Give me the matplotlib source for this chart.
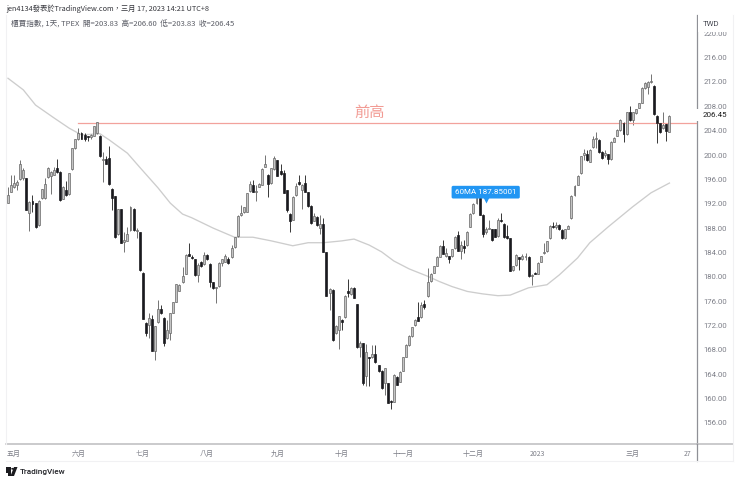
import matplotlib
matplotlib.use("Agg")
import matplotlib.pyplot as plt
from matplotlib.patches import Polygon, Rectangle, Circle

# =========================
# DATA
# =========================

opens = [
    192.2, 194.0, 194.8, 195.1, 196.1, 196.2, 196.2, 190.4, 192.4, 192.1,
    188.5, 192.9, 192.9, 196.4, 196.6, 196.8, 197.9, 197.2, 192.8, 194.3,
    193.6, 197.7, 201.1, 202.6, 203.6, 203.3, 203.0, 202.9, 203.2, 203.6,
    203.2, 199.2, 199.3, 199.5, 194.5, 193.2, 187.0, 191.1, 185.7, 185.9,
    187.7, 191.1, 187.5, 187.3, 180.7, 172.4, 172.1, 173.0, 167.9, 172.5,
    174.7, 173.3, 169.9, 170.7, 174.1, 175.9, 177.7, 179.1, 180.5, 183.7,
    183.3, 182.9, 180.3, 182.5, 182.1, 183.6, 182.1, 179.1, 178.1, 178.5,
    182.3, 182.5, 183.0, 183.2, 184.9, 186.7, 190.2, 190.6, 190.7, 194.1,
    195.1, 193.9, 194.8, 195.1, 198.1, 196.8, 195.4, 197.7, 199.1, 197.3,
    197.0, 194.2, 190.3, 189.4, 193.4, 195.5, 194.2, 195.4, 193.9, 191.7,
    189.2, 189.9, 188.0, 188.7, 184.0, 177.3, 177.9, 170.7, 171.2, 172.9,
    173.4, 177.6, 177.2, 178.1, 175.5, 168.4, 169.1, 163.7, 166.8, 166.8,
    167.4, 165.5, 164.5, 162.5, 162.5, 159.5, 159.5, 163.6, 162.8, 164.6,
    166.9, 168.8, 170.3, 172.1, 173.4, 173.4, 175.5, 176.9, 179.3, 180.7,
    181.8, 183.3, 185.1, 183.5, 183.4, 183.4, 184.7, 186.8, 184.3, 185.1,
    185.2, 188.2, 190.4, 192.1, 193.0, 190.2, 187.3, 187.9, 187.8, 187.8,
    186.7, 189.3, 188.7, 186.7, 186.3, 181.1, 182.0, 183.2, 183.0, 183.2,
    183.3, 180.1, 180.7, 180.5, 182.5, 183.9, 184.2, 186.3, 188.3, 188.1,
    188.5, 187.7, 186.3, 187.9, 189.6, 193.4, 195.1, 197.0, 200.0, 200.1,
    198.9, 201.3, 202.6, 202.5, 200.5, 200.0, 200.1, 199.3, 202.2, 203.2,
    204.1, 205.2, 203.4, 207.1, 205.8, 206.9, 207.8, 208.6, 211.0, 211.1,
    212.0, 211.4, 206.4, 205.2, 204.4, 205.1, 203.83,
]

highs = [
    194.8, 196.8, 196.8, 195.9, 199.2, 197.8, 196.3, 192.5, 193.5, 192.2,
    192.6, 194.5, 196.2, 198.1, 197.3, 198.1, 199.3, 197.3, 194.9, 195.7,
    197.1, 201.2, 202.7, 204.4, 203.8, 203.6, 203.2, 203.4, 204.8, 205.5,
    203.3, 200.5, 199.9, 201.5, 194.6, 193.3, 191.2, 191.2, 187.4, 188.1,
    191.6, 191.3, 188.0, 187.4, 180.8, 172.5, 174.0, 173.7, 172.0, 176.2,
    175.4, 173.4, 172.9, 174.1, 175.9, 178.9, 178.9, 181.6, 183.7, 185.5,
    183.6, 183.0, 182.2, 182.6, 184.0, 183.7, 182.2, 179.2, 178.4, 182.4,
    183.0, 183.8, 183.2, 185.2, 186.6, 190.1, 191.8, 191.5, 193.8, 195.8,
    195.9, 195.1, 195.4, 197.8, 200.0, 196.9, 197.9, 199.9, 199.2, 198.6,
    197.5, 194.3, 190.4, 193.2, 195.4, 196.7, 195.2, 196.8, 194.0, 191.8,
    190.4, 190.0, 190.1, 189.6, 184.1, 178.1, 178.0, 172.1, 173.6, 173.0,
    177.0, 179.6, 178.4, 178.4, 175.6, 169.5, 169.2, 169.0, 166.8, 168.8,
    168.8, 165.6, 164.7, 165.1, 162.6, 159.7, 164.0, 163.7, 164.5, 166.9,
    168.9, 170.4, 171.8, 173.0, 175.8, 175.9, 176.2, 181.4, 180.6, 181.8,
    183.4, 185.2, 186.0, 184.8, 183.5, 184.6, 186.7, 187.5, 185.8, 186.0,
    187.5, 190.4, 192.1, 193.3, 193.1, 190.3, 188.1, 189.3, 187.8, 187.9,
    189.6, 190.4, 188.8, 188.5, 186.4, 181.8, 183.7, 183.3, 183.7, 183.9,
    183.4, 180.5, 180.8, 182.4, 183.5, 185.5, 185.9, 188.5, 189.0, 189.0,
    188.6, 187.8, 187.9, 188.5, 193.4, 195.0, 196.7, 199.9, 201.0, 200.8,
    201.0, 203.1, 203.7, 202.6, 200.6, 200.8, 200.2, 202.3, 202.9, 204.2,
    205.9, 205.4, 207.1, 208.0, 207.1, 207.6, 208.6, 211.1, 212.0, 212.1,
    213.3, 211.5, 206.5, 205.3, 207.1, 205.2, 206.60,
]

lows = [
    192.1, 193.9, 194.6, 194.3, 195.9, 195.9, 190.9, 187.5, 190.7, 188.0,
    188.4, 192.8, 192.8, 196.3, 193.6, 196.7, 197.1, 192.5, 192.7, 193.3,
    193.5, 197.6, 201.0, 202.5, 202.6, 202.3, 202.3, 202.6, 203.1, 203.5,
    199.7, 195.6, 198.5, 195.1, 190.9, 186.4, 186.9, 185.5, 184.0, 185.8,
    187.6, 187.6, 186.3, 181.0, 173.0, 170.3, 169.9, 167.8, 166.3, 172.4,
    173.9, 168.6, 169.8, 169.7, 174.0, 175.8, 177.6, 179.0, 180.4, 183.4,
    183.0, 180.2, 179.2, 181.6, 182.0, 182.8, 178.4, 178.0, 175.7, 178.4,
    181.7, 182.4, 182.1, 183.1, 184.7, 186.6, 190.0, 190.5, 190.6, 194.0,
    193.9, 192.5, 194.7, 195.0, 198.0, 193.1, 195.2, 197.5, 196.5, 196.7,
    193.7, 190.7, 187.3, 189.3, 193.3, 195.1, 191.1, 193.9, 191.5, 188.7,
    189.1, 188.4, 187.0, 184.0, 176.8, 174.6, 169.5, 170.6, 168.2, 171.3,
    173.2, 176.7, 177.0, 176.5, 168.3, 166.9, 162.2, 162.1, 162.1, 166.7,
    165.9, 164.4, 161.6, 160.6, 159.2, 158.3, 159.4, 162.2, 162.7, 164.5,
    166.8, 168.7, 170.2, 172.0, 172.7, 173.3, 174.7, 176.7, 179.2, 180.6,
    181.7, 183.2, 183.7, 183.3, 182.3, 183.2, 184.6, 184.2, 182.9, 183.9,
    185.1, 188.1, 190.3, 192.0, 190.1, 186.6, 187.1, 187.8, 185.9, 186.5,
    186.6, 189.0, 186.4, 186.2, 180.9, 181.0, 181.8, 181.1, 182.8, 182.8,
    180.0, 178.6, 180.4, 180.4, 182.4, 183.8, 184.1, 186.2, 188.0, 187.9,
    187.7, 186.2, 186.2, 187.8, 189.5, 193.3, 195.0, 196.9, 199.1, 199.0,
    198.8, 201.2, 201.1, 200.3, 199.4, 199.6, 198.5, 199.2, 202.1, 203.1,
    204.0, 202.2, 203.3, 205.6, 205.0, 206.7, 207.7, 208.5, 210.9, 210.1,
    211.8, 206.6, 202.0, 203.6, 204.3, 202.3, 203.83,
]

closes = [
    193.4, 195.0, 195.4, 195.6, 198.5, 197.5, 191.0, 192.3, 191.9, 188.1,
    192.4, 194.4, 195.2, 197.9, 197.2, 197.5, 197.2, 192.6, 194.8, 193.4,
    197.0, 201.1, 202.6, 203.6, 202.7, 202.6, 202.9, 203.3, 204.7, 205.4,
    199.8, 199.3, 198.6, 195.2, 192.9, 186.5, 191.1, 185.6, 186.0, 187.1,
    191.4, 187.7, 187.7, 181.1, 173.1, 170.7, 173.2, 167.9, 171.9, 174.7,
    174.0, 169.2, 171.2, 174.0, 175.8, 178.8, 178.7, 180.2, 183.6, 183.5,
    183.1, 180.3, 182.0, 181.7, 183.6, 182.9, 179.2, 178.1, 178.3, 182.3,
    182.9, 183.5, 182.2, 184.7, 186.5, 190.0, 190.5, 191.4, 193.7, 195.2,
    194.0, 194.1, 195.2, 197.7, 198.6, 195.2, 197.8, 199.5, 196.6, 196.9,
    193.8, 190.9, 189.2, 193.1, 194.9, 195.3, 195.1, 194.0, 191.7, 188.8,
    190.0, 188.5, 188.7, 184.1, 176.9, 178.0, 169.6, 171.9, 173.5, 172.5,
    176.9, 177.4, 178.1, 176.6, 168.4, 169.1, 162.5, 167.6, 166.6, 167.3,
    166.0, 164.5, 161.7, 165.0, 159.3, 159.4, 163.9, 162.3, 164.4, 166.8,
    168.8, 170.3, 171.7, 172.9, 172.8, 175.4, 175.1, 179.2, 180.5, 181.7,
    183.3, 185.1, 183.8, 183.9, 182.9, 184.5, 186.6, 184.3, 185.2, 184.8,
    187.4, 190.3, 192.0, 193.1, 190.2, 187.1, 187.8, 188.0, 186.1, 186.6,
    189.4, 189.2, 186.5, 186.3, 181.0, 181.7, 183.6, 182.9, 183.4, 183.4,
    180.1, 180.3, 180.5, 182.3, 183.4, 184.1, 185.8, 188.4, 188.2, 188.5,
    187.8, 186.3, 187.8, 188.4, 193.3, 194.9, 196.6, 199.8, 200.3, 199.1,
    200.8, 202.6, 202.7, 200.5, 199.5, 200.3, 199.3, 202.2, 202.8, 204.1,
    205.8, 203.4, 207.0, 205.8, 207.0, 207.5, 208.5, 211.0, 211.9, 212.0,
    212.2, 206.7, 205.3, 203.7, 205.0, 204.0, 206.45,
]

# 60MA read at a few bars
ma_bars = [
    0, 5, 9, 15, 20, 24, 30, 33, 39, 43, 49, 53, 57, 60, 67, 74, 80, 86, 93,
    98, 103, 109, 113, 118, 122, 126, 131, 137, 141, 145, 150, 155, 160, 164,
    170, 176, 180, 186, 190, 196, 204, 210, 216,
]
ma_values = [
    212.6, 210.7, 208.2, 206.1, 204.4, 203.3, 203.5, 202.5, 200.3, 198.0,
    194.6, 192.1, 190.3, 189.7, 188.0, 186.5, 186.5, 185.9, 185.1, 185.6,
    185.6, 185.9, 186.2, 185.2, 184.1, 182.6, 181.3, 180.1, 179.2, 178.4,
    177.6, 177.2, 176.9, 177.0, 178.2, 178.7, 180.3, 183.1, 185.6, 188.2,
    191.5, 193.8, 195.4,
]

month_bars = [2, 23, 44, 65, 88, 109, 129, 152, 173, 204, 222]
month_labels = ["五月", "六月", "七月", "八月", "九月", "十月", "十一月",
                "十二月", "2023", "三月", "27"]

price_ticks = [156, 160, 164, 168, 172, 176, 180, 184, 188, 192, 196, 200,
               204, 208, 212, 216, 220]

prev_high = 205.26
prev_high_start = 23
last_price = 206.45

# =========================
# FIGURE
# =========================

W, H = 740, 482
plt.rcParams["font.family"] = ["Noto Sans CJK TC", "DejaVu Sans"]

GRAY_TEXT = "#7d7f88"
DARK = "#1c1c1c"

fig = plt.figure(figsize=(W / 100, H / 100), dpi=100, facecolor="white")


def fx(px):
    return px / W


def fy(py):
    return 1 - py / H


ax = fig.add_axes([fx(6), fy(444), fx(691), (444 - 15) / H])
ax.set_xlim(-0.65, 225.0)
ax.set_ylim(152.55, 222.99)

# =========================
# CANDLES
# =========================

for i in range(len(opens)):
    o, h, l, c = opens[i], highs[i], lows[i], closes[i]
    up = c >= o
    wick = "#6a6a6a" if up else "#2a2a2a"
    ax.vlines(i, l, h, color=wick, lw=0.65, zorder=3)
    ax.bar(
        i,
        max(abs(c - o), 0.15),
        bottom=min(o, c),
        width=0.64,
        facecolor="#c4c4c4" if up else "#1a1a1e",
        edgecolor="#666666" if up else "#1a1a1e",
        linewidth=0.5,
        zorder=4,
    )

ax.plot(ma_bars, ma_values, color="#cdcdcd", lw=0.95, zorder=2)

# =========================
# DRAWINGS
# =========================

ax.plot([prev_high_start, 225.0], [prev_high, prev_high], color="#f2a29c", lw=0.9, zorder=3)
ax.text(118, 207.0, "前高", color="#f29b94", fontsize=11, ha="center", va="center")

ax.text(
    156, 193.9, "60MA 187.85001", color="white", fontsize=5.75, ha="center", va="center",
    family=["Roboto", "DejaVu Sans"], zorder=7,
    bbox=dict(boxstyle="round,pad=0.42,rounding_size=0.2", facecolor="#2196f3", edgecolor="none"),
)
ax.plot(156, 192.6, marker="v", ms=5, color="#2196f3", mec="none", zorder=6)

# =========================
# AXES
# =========================

for side in ["top", "left"]:
    ax.spines[side].set_visible(False)
ax.spines["right"].set_color("#8f9096")
ax.spines["right"].set_linewidth(0.9)
ax.spines["bottom"].set_color("#bcbcbf")
ax.spines["bottom"].set_linewidth(1.1)

ax.yaxis.tick_right()
ax.set_yticks(price_ticks)
ax.set_yticklabels([f"{p:.2f}" for p in price_ticks], family=["Roboto", "DejaVu Sans"])
ax.tick_params(axis="y", length=0, pad=4.4, labelsize=5.6, labelcolor=GRAY_TEXT)

ax.set_xticks(month_bars)
ax.set_xticklabels(month_labels)
ax.tick_params(axis="x", length=0, pad=4.5, labelsize=5.0, labelcolor=GRAY_TEXT)

# right hand extras
cover = Rectangle((fx(698), fy(31.5)), fx(34), 16.5 / H, transform=fig.transFigure,
                  facecolor="white", edgecolor="none", clip_on=False, zorder=8)
ax.add_artist(cover)
fig.text(fx(703), fy(24), "TWD", color="#4a4c55", fontsize=5.6, va="center",
         family=["Roboto", "DejaVu Sans"], zorder=9)

price_box = Rectangle((fx(695.5), fy(120.5)), fx(37), 11 / H, transform=fig.transFigure,
                      facecolor="white", edgecolor="none", clip_on=False, zorder=8)
ax.add_artist(price_box)
fig.text(fx(703), fy(115), f"{last_price:.2f}", color=DARK, fontsize=5.8, va="center",
         family=["Roboto", "DejaVu Sans"], zorder=9)

# axis extensions and faint frame
fig.add_artist(plt.Line2D([fx(697), fx(733)], [fy(444), fy(444)], color="#bcbcbf", lw=1.1))
fig.add_artist(plt.Line2D([fx(697), fx(697)], [fy(444), fy(461)], color="#8f9096", lw=0.9))
fig.add_artist(plt.Line2D([fx(6), fx(733)], [fy(461), fy(461)], color="#f1f1f3", lw=0.8))
fig.add_artist(plt.Line2D([fx(733), fx(733)], [fy(15), fy(461)], color="#f1f1f3", lw=0.8))
fig.add_artist(plt.Line2D([fx(6), fx(6)], [fy(15), fy(444)], color="#f1f1f3", lw=0.8))

# =========================
# HEADER AND LOGO
# =========================

fig.text(fx(6), fy(9), "jen4134發表於TradingView.com，三月 17, 2023 14:21 UTC+8",
         color="#33343a", fontsize=5.25, va="center")
fig.text(fx(11), fy(25), "櫃買指數, 1天, TPEX  開=203.83  高=206.60  低=203.83  收=206.45",
         color="#5b5d66", fontsize=5.5, va="center")

logo = "#1b1b1f"
fig.add_artist(Rectangle((fx(6), fy(473)), fx(5), 6 / H, transform=fig.transFigure,
                         facecolor=logo, edgecolor="none"))
fig.add_artist(Rectangle((fx(8), fy(476)), fx(3), 9 / H, transform=fig.transFigure,
                         facecolor=logo, edgecolor="none"))
fig.add_artist(Circle((fx(12.6), fy(468.8)), 1.4 / W, transform=fig.transFigure,
                      facecolor=logo, edgecolor="none"))
fig.add_artist(Polygon([(fx(14), fy(467)), (fx(17.5), fy(467)), (fx(14), fy(476)), (fx(10.5), fy(476))],
                       transform=fig.transFigure, facecolor=logo, edgecolor="none"))
fig.text(fx(20), fy(472), "TradingView", color="#202126", fontsize=5.9, va="center",
         family=["Roboto", "DejaVu Sans"], fontweight="medium")

fig.savefig("out.png", dpi=100)
